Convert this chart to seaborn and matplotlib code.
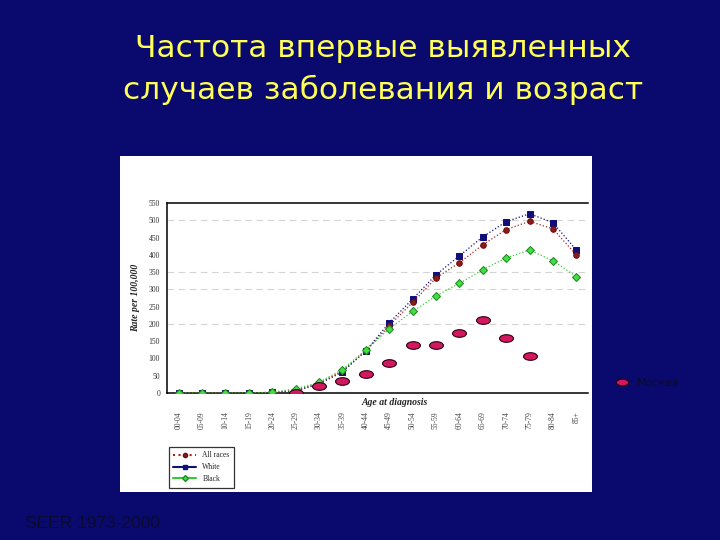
import numpy as np
import matplotlib
matplotlib.use("Agg")
import matplotlib.pyplot as plt
from matplotlib.lines import Line2D
from matplotlib.patches import Rectangle
from matplotlib.path import Path
import seaborn as sns

# data
ages = ['00-04', '05-09', '10-14', '15-19', '20-24', '25-29', '30-34', '35-39', '40-44',
        '45-49', '50-54', '55-59', '60-64', '65-69', '70-74', '75-79', '80-84', '85+']
all_races = [0, 0, 0, 0, 2, 7, 28, 64, 121, 195, 262, 333, 377, 429, 473, 497, 475, 400]
white = [0, 0, 0, 0, 2, 6, 26, 61, 122, 203, 272, 342, 397, 452, 496, 519, 493, 414]
black = [0, 0, 0, 0, 2, 12, 31, 68, 125, 186, 236, 281, 317, 357, 391, 414, 383, 337]
region_ages = ['25-29', '30-34', '35-39', '40-44', '45-49', '50-54', '55-59', '60-64',
               '65-69', '70-74', '75-79']
region = [1, 21, 35, 55, 87, 139, 139, 174, 212, 159, 107]
region_label = 'Москва'
grid_levels = [200, 300, 350, 500]

sns.set_style("white")
plt.rcParams['font.family'] = ['DejaVu Sans']

bg = '#0a0a6e'
fig = plt.figure(figsize=(7.2, 5.4), dpi=100, facecolor=bg)

# white panel behind the chart
fig.patches.append(Rectangle((120 / 720, 48 / 540), 472 / 720, 336 / 540,
                             transform=fig.transFigure, facecolor='white',
                             edgecolor='none', zorder=-1))

fig.text(0.532, 0.911, 'Частота впервые выявленных', color='#ffff55',
         fontsize=22.5, ha='center', va='center')
fig.text(0.532, 0.833, 'случаев заболевания и возраст', color='#ffff55',
         fontsize=22.5, ha='center', va='center')

ax = fig.add_axes([167 / 720, 147 / 540, 421 / 720, 190 / 540])
ax.set_facecolor('none')
ax.set_zorder(2)

x = np.arange(len(ages))
xr = np.array([ages.index(a) for a in region_ages])

for lvl in grid_levels:
    ax.axhline(lvl, color='#d4d4d4', lw=0.8, ls=(0, (6, 4)), zorder=0)

sns.lineplot(x=x, y=white, ax=ax, color='#10107a', linestyle=':', lw=0.9,
             marker='s', markersize=4.5, markeredgecolor='#10107a', zorder=3)
sns.lineplot(x=x, y=all_races, ax=ax, color='#b02020', linestyle=':', lw=0.9,
             marker='o', markersize=4, markerfacecolor='#8b1a1a',
             markeredgecolor='#6a1010', zorder=4)
sns.lineplot(x=x, y=black, ax=ax, color='#33cc33', linestyle=':', lw=0.9,
             marker='D', markersize=3.6, markerfacecolor='#44dd44',
             markeredgecolor='#228822', zorder=5)

circ = Path.unit_circle()
ellipse = Path(circ.vertices * np.array([1.0, 0.55]), circ.codes)
sns.scatterplot(x=xr, y=region, ax=ax, marker=ellipse, s=100, color='#d41860',
                edgecolor='#2a0010', linewidth=0.8, zorder=6)

ax.set_xlim(-0.5, 17.5)
ax.set_ylim(0, 550)
ax.set_yticks(np.arange(0, 551, 50))
ax.set_yticks(np.arange(0, 551, 10), minor=True)
ax.set_xticks(x)
ax.set_xticklabels(ages, rotation=90, fontsize=5.5, family='Liberation Serif',
                   color='#444444')
for lab in ax.get_yticklabels():
    lab.set_fontsize(5.5)
    lab.set_family('Liberation Serif')
    lab.set_color('#333333')
ax.tick_params(axis='x', direction='in', length=3, width=0.8, pad=13)
ax.tick_params(axis='y', which='major', direction='out', length=3, width=0.8, pad=2)
ax.tick_params(axis='y', which='minor', direction='out', length=1.5, width=0.5)

for side in ['left', 'top', 'bottom']:
    ax.spines[side].set_color('black')
    ax.spines[side].set_linewidth(1.1)
ax.spines['right'].set_visible(False)

ax.set_ylabel('Rate per 100,000', fontsize=7, style='italic', weight='bold',
              family='Liberation Serif', labelpad=6)
ax.text(0.54, -0.05, 'Age at diagnosis', transform=ax.transAxes, fontsize=7,
        style='italic', weight='bold', family='Liberation Serif',
        ha='center', va='center')

handles = [
    Line2D([], [], color='#b02020', linestyle=':', marker='o', markersize=3,
           markerfacecolor='#8b1a1a', markeredgecolor='#6a1010'),
    Line2D([], [], color='#10107a', linestyle='-', marker='s', markersize=3.5),
    Line2D([], [], color='#33cc33', linestyle='-', marker='D', markersize=3,
           markerfacecolor='#44dd44', markeredgecolor='#228822'),
]
leg = fig.legend(handles, ['All races', 'White', 'Black'], loc='upper left',
                 bbox_to_anchor=(165 / 720, 1 - 443 / 540), frameon=True,
                 fancybox=False, edgecolor='black', handlelength=3,
                 prop={'family': 'Liberation Serif', 'size': 5.5},
                 borderpad=0.6, labelspacing=0.5)
leg.get_frame().set_linewidth(0.9)

reg_handle = Line2D([], [], linestyle='none', marker=ellipse, markersize=9,
                    markerfacecolor='#d41860', markeredgecolor='#2a0010')
leg2 = fig.legend([reg_handle], [region_label], loc='center left',
                  bbox_to_anchor=(605 / 720, 1 - 383 / 540), frameon=False,
                  handlelength=1.2, prop={'size': 8}, labelcolor='#0a0a30')

fig.text(25 / 720, 1 - 524 / 540, 'SEER 1973-2000', color='#0a0a30',
         fontsize=12.5, family='Liberation Sans', ha='left', va='center')

fig.savefig('out.png', dpi=100, facecolor=bg)
